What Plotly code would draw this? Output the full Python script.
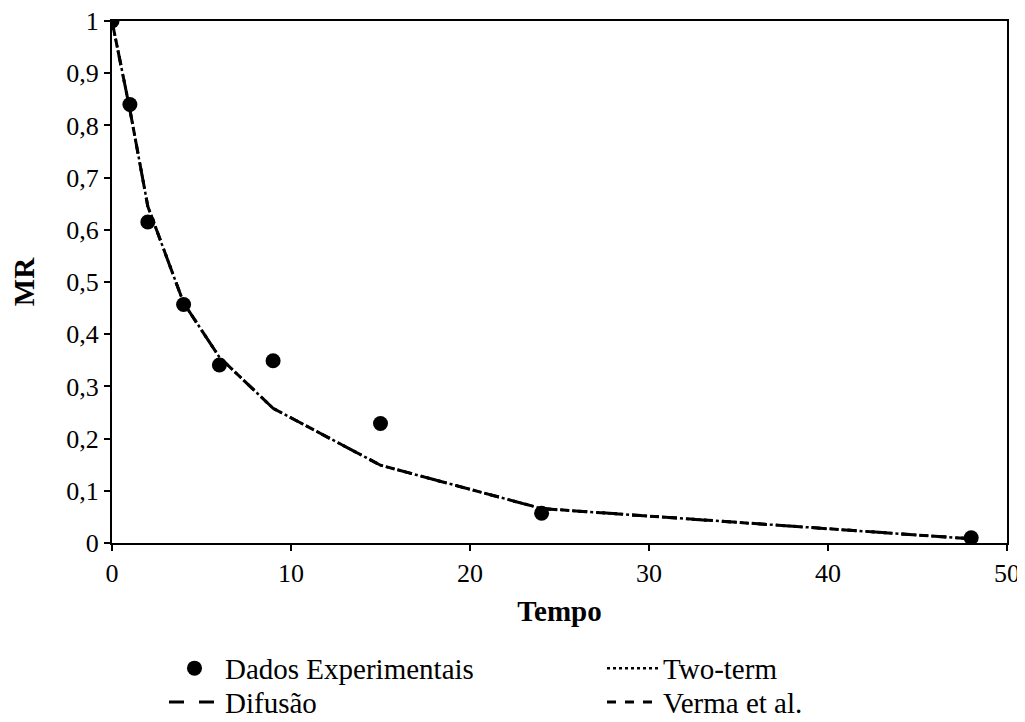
import plotly.graph_objects as go

tempo = [0, 1, 2, 4, 6, 9, 15, 24, 48]
mr_exp = [1.0, 0.84, 0.615, 0.457, 0.341, 0.349, 0.229, 0.057, 0.01]
mr_two_term = [1.0, 0.83, 0.645, 0.46, 0.356, 0.258, 0.149, 0.066, 0.008]
mr_difusao = [1.0, 0.83, 0.645, 0.46, 0.356, 0.258, 0.149, 0.066, 0.008]
mr_verma = [1.0, 0.83, 0.645, 0.46, 0.356, 0.258, 0.149, 0.066, 0.008]

font_family = "Liberation Serif"

fig = go.Figure()
fig.add_trace(go.Scatter(x=tempo, y=mr_exp, mode="markers", name="Dados Experimentais",
                         marker=dict(color="black", size=15), legend="legend"))
fig.add_trace(go.Scatter(x=tempo, y=mr_two_term, mode="lines", name="Two-term",
                         line=dict(color="black", width=2.5, dash="dot"), legend="legend"))
fig.add_trace(go.Scatter(x=tempo, y=mr_difusao, mode="lines", name="Difusão",
                         line=dict(color="black", width=3, dash="longdash"), legend="legend2"))
fig.add_trace(go.Scatter(x=tempo, y=mr_verma, mode="lines", name="Verma et al.",
                         line=dict(color="black", width=3, dash="dash"), legend="legend2"))

legend_common = dict(orientation="h", xanchor="left", yanchor="middle",
                     entrywidth=372, entrywidthmode="pixels",
                     font=dict(size=29, family=font_family, color="black"),
                     itemwidth=51, bgcolor="rgba(0,0,0,0)")

fig.update_layout(
    width=1017, height=714,
    margin=dict(l=104, r=18, t=13, b=179, autoexpand=False),
    plot_bgcolor="white", paper_bgcolor="white",
    separators=", ",
    font=dict(family=font_family, size=26, color="black"),
    xaxis=dict(range=[0, 50], dtick=10, showgrid=False, zeroline=False,
               showline=True, linecolor="black", linewidth=2, mirror=True,
               ticks="outside", ticklen=6, tickwidth=2, tickcolor="black",
               ticklabeloverflow="allow",
               title=dict(text="<b>Tempo</b>", font=dict(size=29), standoff=13),
               tickfont=dict(size=26)),
    yaxis=dict(range=[0, 1], dtick=0.1, showgrid=False, zeroline=False,
               showline=True, linecolor="black", linewidth=2, mirror=True,
               ticks="outside", ticklen=6, tickwidth=2, tickcolor="black",
               ticklabeloverflow="allow",
               title=dict(text="<b>MR</b>", font=dict(size=29), standoff=30),
               tickfont=dict(size=26)),
    legend=dict(x=0.0581, y=-0.240, **legend_common),
    legend2=dict(x=0.0581, y=-0.305, **legend_common),
)

fig.write_html("out.html")
